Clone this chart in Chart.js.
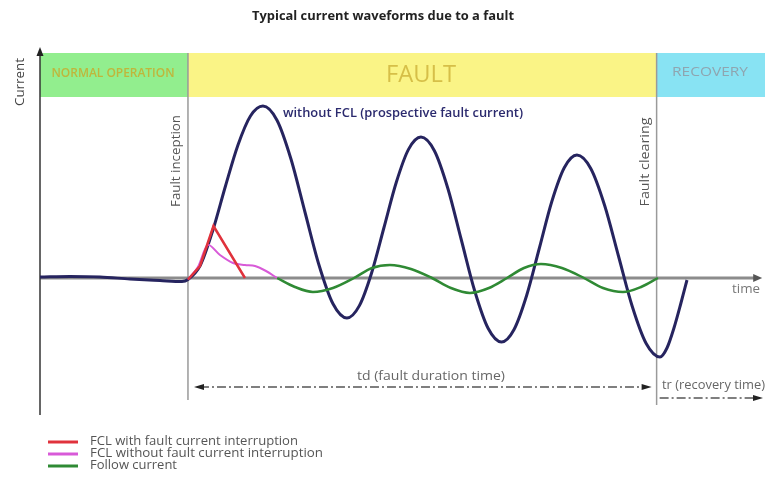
<!DOCTYPE html>
<html>
<head>
<meta charset="utf-8">
<script src="https://cdn.jsdelivr.net/npm/chart.js@4.4.1/dist/chart.umd.min.js"></script>
<style>
  html, body { margin: 0; padding: 0; background: #fff; }
</style>
</head>
<body>
<canvas id="faultChart" width="765" height="479"></canvas>
<script>
// time in ms (0 = fault inception), current in kA
const titleText = 'Typical current waveforms due to a fault';
const phaseNames = ['NORMAL OPERATION', 'FAULT', 'RECOVERY'];
const faultStart = 0;
const faultEnd = 59.7;
const timeMin = -18.85, timeMax = 73.15;
const currentMin = -13.7, currentMax = 22.9;

// prospective fault current (no limiter)
const tProspective = [-18.85, -15.03, -11.21, -7.39, -3.57, -0.76, 0,
  1.59, 3.18, 4.78, 6.37, 7.96, 9.55,
  11.34, 13.12, 14.90, 16.69, 18.47, 20.25,
  21.82, 23.40, 24.97, 26.54, 28.11, 29.68,
  31.39, 33.10, 34.81, 36.52, 38.23, 39.94,
  41.54, 43.15, 44.75, 46.34, 47.95, 49.55,
  51.31, 53.08, 54.84, 56.60, 58.37, 60.13,
  61.02, 61.91, 62.80, 63.57];
const iProspective = [0.1, 0.15, 0.1, -0.1, -0.25, -0.35, -0.15,
  1.3, 4.8, 9.2, 13.3, 16.2, 17.2,
  15.78, 11.9, 6.6, 1.3, -2.58, -4.0,
  -2.79, 0.53, 5.05, 9.58, 12.89, 14.1,
  12.73, 8.98, 3.85, -1.28, -5.03, -6.4,
  -5.15, -1.73, 2.95, 7.63, 11.05, 12.3,
  10.95, 7.25, 2.2, -2.85, -6.55, -7.9,
  -7.0, -5.0, -2.5, -0.2];

// FCL with fault current interruption
const tInterrupt = [0, 1.53, 3.25, 7.26];
const iInterrupt = [-0.15, 1.2, 5.2, 0];

// FCL without fault current interruption
const tLimited = [0, 1.27, 2.55, 4.08, 5.73, 7.26, 8.54, 9.94, 11.34];
const iLimited = [-0.15, 1.1, 3.3, 2.3, 1.5, 1.3, 1.2, 0.7, 0];

// follow current
const tFollow = [11.34, 13.63, 15.92, 18.47, 21.15, 23.44, 25.73, 28.41, 31.08,
  33.50, 35.92, 38.34, 40.64, 42.80, 44.97, 47.64, 50.45, 52.87, 55.41, 57.71, 59.87];
const iFollow = [0, -0.9, -1.4, -1.0, 0, 1.0, 1.3, 0.9, 0,
  -1.0, -1.5, -1.0, 0, 1.0, 1.4, 1.0, 0, -1.0, -1.4, -0.9, 0];

const legendLabels = ['FCL with fault current interruption', 'FCL without fault current interruption', 'Follow current'];

const NAVY = '#26245f';
const RED = '#e0323c';
const MAGENTA = '#d85ad8';
const GREEN = '#2f8a34';
const FONT = '"Open Sans", "DejaVu Sans", sans-serif';

function toPoints(ts, vs) {
  return ts.map((t, k) => ({ x: t, y: vs[k] }));
}

// text squeezed/stretched to a given width, centred on (cx, cy)
function drawLabel(ctx, text, cx, cy, width, font, color, rot) {
  ctx.save();
  ctx.font = font;
  ctx.fillStyle = color;
  ctx.textAlign = 'center';
  ctx.textBaseline = 'middle';
  ctx.translate(cx, cy);
  if (rot) ctx.rotate(rot);
  const w = ctx.measureText(text).width;
  ctx.scale(width / w, 1);
  ctx.fillText(text, 0, 0);
  ctx.restore();
}

function arrowHead(ctx, x, y, dir, color, len, half) {
  ctx.save();
  ctx.fillStyle = color;
  ctx.beginPath();
  if (dir === 'right') { ctx.moveTo(x, y); ctx.lineTo(x - len, y - half); ctx.lineTo(x - len, y + half); }
  if (dir === 'left') { ctx.moveTo(x, y); ctx.lineTo(x + len, y - half); ctx.lineTo(x + len, y + half); }
  if (dir === 'up') { ctx.moveTo(x, y); ctx.lineTo(x - half, y + len); ctx.lineTo(x + half, y + len); }
  ctx.closePath();
  ctx.fill();
  ctx.restore();
}

const backdrop = {
  id: 'backdrop',
  beforeDatasetsDraw(chart) {
    const ctx = chart.ctx;
    const xs = chart.scales.x, ys = chart.scales.y;
    const area = chart.chartArea;
    const x0 = xs.getPixelForValue(faultStart);
    const x1 = xs.getPixelForValue(faultEnd);
    const yZero = ys.getPixelForValue(0);
    const bandTop = 53, bandBottom = 97;

    // phase bands
    ctx.save();
    ctx.fillStyle = '#92ee8e';
    ctx.fillRect(area.left, bandTop, x0 - area.left, bandBottom - bandTop);
    ctx.fillStyle = '#faf486';
    ctx.fillRect(x0, bandTop, x1 - x0, bandBottom - bandTop);
    ctx.fillStyle = '#88e3f3';
    ctx.fillRect(x1, bandTop, chart.width - x1, bandBottom - bandTop);
    ctx.restore();

    drawLabel(ctx, phaseNames[0], (area.left + x0) / 2 - 1, 74, 123, '600 12px ' + FONT, '#bfb63c');
    drawLabel(ctx, phaseNames[1], 421, 75, 70, '23px ' + FONT, '#d6bf48');
    drawLabel(ctx, phaseNames[2], 710, 73, 76, '12px ' + FONT, '#8fa5b0');

    // inception / clearing markers
    ctx.save();
    ctx.strokeStyle = '#9a9a9a';
    ctx.lineWidth = 1.5;
    ctx.beginPath();
    ctx.moveTo(x0, bandTop); ctx.lineTo(x0, 400);
    ctx.moveTo(x1, bandTop); ctx.lineTo(x1, 405);
    ctx.stroke();
    ctx.restore();

    // time axis
    ctx.save();
    ctx.strokeStyle = '#8c8c8c';
    ctx.lineWidth = 3;
    ctx.beginPath();
    ctx.moveTo(area.left, yZero); ctx.lineTo(area.right - 6, yZero);
    ctx.stroke();
    ctx.restore();
    arrowHead(ctx, area.right, yZero, 'right', '#555', 9, 4);

    // current axis
    ctx.save();
    ctx.strokeStyle = '#333';
    ctx.lineWidth = 1.5;
    ctx.beginPath();
    ctx.moveTo(area.left, area.bottom); ctx.lineTo(area.left, area.top + 6);
    ctx.stroke();
    ctx.restore();
    arrowHead(ctx, area.left, area.top - 2, 'up', '#222', 9, 3.5);

    drawLabel(ctx, 'Current', 21, 82, 48, '12px ' + FONT, '#444', -Math.PI / 2);
    drawLabel(ctx, 'time', 746, 290, 28, '12px ' + FONT, '#777');
    drawLabel(ctx, 'Fault inception', x0 - 11, 161, 92, '12px ' + FONT, '#555', -Math.PI / 2);
    drawLabel(ctx, 'Fault clearing', x1 - 11, 162, 89, '12px ' + FONT, '#555', -Math.PI / 2);
  },
  afterDatasetsDraw(chart) {
    const ctx = chart.ctx;
    const xs = chart.scales.x;
    const x0 = xs.getPixelForValue(faultStart);
    const x1 = xs.getPixelForValue(faultEnd);

    drawLabel(ctx, titleText, 383, 16, 262, 'bold 13px ' + FONT, '#222');
    drawLabel(ctx, 'without FCL (prospective fault current)', 403, 114, 240, '600 12px ' + FONT, '#2b2a6e');

    // duration arrows
    ctx.save();
    ctx.strokeStyle = '#555';
    ctx.lineWidth = 1.5;
    ctx.setLineDash([9, 3, 2, 3]);
    ctx.beginPath();
    ctx.moveTo(x0 + 12, 387); ctx.lineTo(x1 - 12, 387);
    ctx.moveTo(x1 + 3, 398); ctx.lineTo(chart.width - 10, 398);
    ctx.stroke();
    ctx.restore();
    arrowHead(ctx, x0 + 6, 387, 'left', '#222', 10, 3);
    arrowHead(ctx, x1 - 5, 387, 'right', '#222', 10, 3);
    arrowHead(ctx, chart.width - 2, 398, 'right', '#222', 10, 3);

    drawLabel(ctx, 'td (fault duration time)', 431, 377, 148, '12px ' + FONT, '#666');
    drawLabel(ctx, 'tr (recovery time)', 713.5, 386, 103, '12px ' + FONT, '#666');

    // legend
    const colors = [RED, MAGENTA, GREEN];
    const widths = [208, 233, 87];
    const rows = [442, 454, 466];
    legendLabels.forEach((txt, k) => {
      ctx.save();
      ctx.strokeStyle = colors[k];
      ctx.lineWidth = 3;
      ctx.beginPath();
      ctx.moveTo(48, rows[k]); ctx.lineTo(78, rows[k]);
      ctx.stroke();
      ctx.restore();
      drawLabel(ctx, txt, 90 + widths[k] / 2, rows[k], widths[k], '12px ' + FONT, '#555');
    });
  }
};

new Chart(document.getElementById('faultChart').getContext('2d'), {
  type: 'line',
  data: {
    datasets: [
      {
        label: legendLabels[0],
        data: toPoints(tInterrupt, iInterrupt),
        borderColor: RED,
        borderWidth: 2.5,
        tension: 0,
        order: 0
      },
      {
        label: legendLabels[1],
        data: toPoints(tLimited, iLimited),
        borderColor: MAGENTA,
        borderWidth: 2,
        tension: 0.3,
        order: 1
      },
      {
        label: legendLabels[2],
        data: toPoints(tFollow, iFollow),
        borderColor: GREEN,
        borderWidth: 2.5,
        cubicInterpolationMode: 'monotone',
        order: 2
      },
      {
        label: 'without FCL (prospective fault current)',
        data: toPoints(tProspective, iProspective),
        borderColor: NAVY,
        borderWidth: 3,
        cubicInterpolationMode: 'monotone',
        order: 3
      }
    ]
  },
  options: {
    responsive: false,
    animation: false,
    clip: false,
    elements: { point: { radius: 0 } },
    layout: { padding: { left: 40, right: 2.8, top: 49, bottom: 64 } },
    scales: {
      x: { type: 'linear', min: timeMin, max: timeMax, display: false },
      y: { type: 'linear', min: currentMin, max: currentMax, display: false }
    },
    plugins: {
      legend: { display: false },
      tooltip: { enabled: false },
      title: { display: false }
    }
  },
  plugins: [backdrop]
});
</script>
</body>
</html>
